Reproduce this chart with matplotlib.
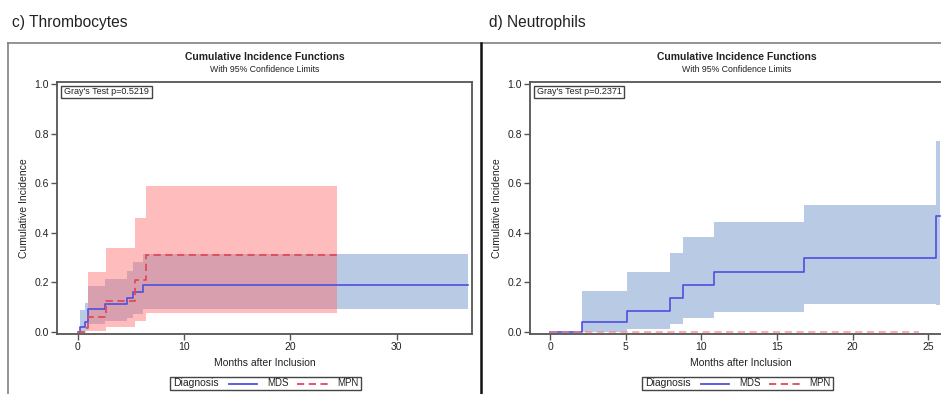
import matplotlib
matplotlib.use("Agg")
import matplotlib.pyplot as plt
from matplotlib.lines import Line2D
from matplotlib.patches import Rectangle

plt.rcParams['font.family'] = ['Liberation Sans', 'DejaVu Sans']

W, H = 941, 394

# ---------------- data ----------------
# c) Thrombocytes
thr_mds_t = [0, 0.25, 0.7, 1.0, 2.55, 4.6, 5.2, 6.1, 36.7]
thr_mds_ci = [0, 0.02, 0.042, 0.093, 0.113, 0.138, 0.163, 0.188, 0.188]
thr_mds_band_t = [0.25, 0.7, 1.0, 2.55, 4.6, 5.2, 6.1, 36.7]
thr_mds_upper = [0.09, 0.117, 0.187, 0.213, 0.248, 0.281, 0.314, 0.314]
thr_mds_lower = [0.0, 0.003, 0.031, 0.045, 0.058, 0.072, 0.092, 0.092]

thr_mpn_t = [0, 0.75, 1.0, 2.62, 5.42, 6.4, 24.35]
thr_mpn_ci = [0, 0.015, 0.06, 0.125, 0.21, 0.311, 0.311]
thr_mpn_band_t = [0.95, 2.62, 5.42, 6.4, 24.35]
thr_mpn_upper = [0.241, 0.34, 0.459, 0.589, 0.589]
thr_mpn_lower = [0.005, 0.019, 0.045, 0.075, 0.075]
thr_p = "Gray's Test p=0.5219"

# d) Neutrophils
neu_mds_t = [0, 2.07, 5.05, 7.92, 8.75, 10.8, 16.8, 25.5, 25.75]
neu_mds_ci = [0, 0.039, 0.085, 0.139, 0.19, 0.242, 0.299, 0.47, 0.47]
neu_mds_band_t = [2.07, 5.05, 7.92, 8.75, 10.8, 16.8, 25.5, 25.75]
neu_mds_upper = [0.167, 0.242, 0.318, 0.382, 0.443, 0.511, 0.771, 0.771]
neu_mds_lower = [0.0, 0.013, 0.032, 0.055, 0.082, 0.113, 0.11, 0.11]

neu_mpn_t = [0, 24.4]
neu_mpn_ci = [0, 0]
neu_p = "Gray's Test p=0.2371"

panel_titles = ["c) Thrombocytes", "d) Neutrophils"]
xticks_list = [[0, 10, 20, 30], [0, 5, 10, 15, 20, 25]]
yticks = [0.0, 0.2, 0.4, 0.6, 0.8, 1.0]

BLUE_LINE = "#4f4fe0"
RED_LINE = "#e04a58"
BLUE_FILL = "#b9cae5"
RED_FILL = (1.0, 0.42, 0.42, 0.45)
TXT = "#222222"
SPINE = "#555555"


def fx(x):
    return x / W


def fy(y):
    return 1 - y / H


fig = plt.figure(figsize=(W / 100, H / 100), dpi=100)

# outer frames
fig.add_artist(Line2D([fx(8), fx(8)], [fy(43), fy(394)], color="#808080", lw=1.2))
fig.add_artist(Line2D([fx(8), fx(941)], [fy(43), fy(43)], color="#808080", lw=1.2))
fig.add_artist(Line2D([fx(481), fx(481)], [fy(43), fy(394)], color="#111111", lw=1.8))

fig.text(fx(12), fy(22), panel_titles[0], fontsize=11.2, color=TXT, va="center", ha="left")
fig.text(fx(489), fy(22), panel_titles[1], fontsize=11.2, color=TXT, va="center", ha="left")

ax_top, ax_bot = 82, 334
panels = [
    dict(l=57, r=472, xlim=(-1.95, 37.1), cx=265, leg=170, pbox=(61, 152)),
    dict(l=530, r=951, xlim=(-1.34, 26.5), cx=737, leg=642, pbox=(534, 624)),
]

axes = []
for i, p in enumerate(panels):
    ax = fig.add_axes([fx(p["l"]), fy(ax_bot), (p["r"] - p["l"]) / W, (ax_bot - ax_top) / H])
    ax.set_xlim(*p["xlim"])
    ax.set_ylim(-0.008, 1.009)
    ax.set_xticks(xticks_list[i])
    ax.set_yticks(yticks)
    ax.set_yticklabels([f"{v:.1f}" for v in yticks])
    ax.tick_params(direction="out", length=4, width=1, color=SPINE, labelsize=7.5,
                   labelcolor=TXT, pad=2)
    for s in ax.spines.values():
        s.set_color(SPINE)
        s.set_linewidth(1.3)
    ax.set_xlabel("Months after Inclusion", fontsize=7.5, color=TXT, labelpad=4)
    ax.set_ylabel("Cumulative Incidence", fontsize=7.5, color=TXT, labelpad=4)
    axes.append(ax)
    fig.text(fx(p["cx"]), fy(57), "Cumulative Incidence Functions", fontsize=7.5,
             fontweight="bold", ha="center", va="center", color=TXT)
    fig.text(fx(p["cx"]), fy(69), "With 95% Confidence Limits", fontsize=6.3,
             ha="center", va="center", color=TXT)
    # Gray's test box
    x0, x1 = p["pbox"]
    fig.add_artist(Rectangle((fx(x0), fy(98)), (x1 - x0) / W, 12 / H, fill=False,
                             edgecolor="#444444", lw=1.0))
    fig.text(fx(x0 + 3), fy(92), thr_p if i == 0 else neu_p, fontsize=6.5,
             ha="left", va="center", color=TXT)
    # legend box
    lx = p["leg"]
    fig.add_artist(Rectangle((fx(lx), fy(390)), 191 / W, 13 / H, fill=False,
                             edgecolor="#444444", lw=1.0))
    fig.text(fx(lx + 3), fy(383.5), "Diagnosis", fontsize=7.5, ha="left", va="center", color=TXT)
    fig.add_artist(Line2D([fx(lx + 59), fx(lx + 87)], [fy(383.5)] * 2, color=BLUE_LINE, lw=1.3))
    fig.text(fx(lx + 97), fy(383.5), "MDS", fontsize=7, ha="left", va="center", color=TXT)
    fig.add_artist(Line2D([fx(lx + 127), fx(lx + 158)], [fy(383.5)] * 2, color=RED_LINE, lw=1.3,
                          dashes=(4, 2.5)))
    fig.text(fx(lx + 167), fy(383.5), "MPN", fontsize=7, ha="left", va="center", color=TXT)

# panel c
ax = axes[0]
ax.fill_between(thr_mds_band_t, thr_mds_lower, thr_mds_upper, step="post",
                color=BLUE_FILL, lw=0, zorder=1)
ax.fill_between(thr_mpn_band_t, thr_mpn_lower, thr_mpn_upper, step="post",
                color=RED_FILL, lw=0, zorder=2)
ax.step(thr_mds_t, thr_mds_ci, where="post", color=BLUE_LINE, lw=1.2, zorder=3)
ax.step(thr_mpn_t, thr_mpn_ci, where="post", color=RED_LINE, lw=1.3, dashes=(4, 2.5), zorder=4)

# panel d
ax = axes[1]
ax.fill_between(neu_mds_band_t, neu_mds_lower, neu_mds_upper, step="post",
                color=BLUE_FILL, lw=0, zorder=1)
ax.step(neu_mds_t, neu_mds_ci, where="post", color=BLUE_LINE, lw=1.2, zorder=3)
ax.step(neu_mpn_t, neu_mpn_ci, where="post", color=(1.0, 0.5, 0.55, 0.7), lw=1.3,
        dashes=(4, 2.5), zorder=4)

fig.savefig("out.png", dpi=100)
